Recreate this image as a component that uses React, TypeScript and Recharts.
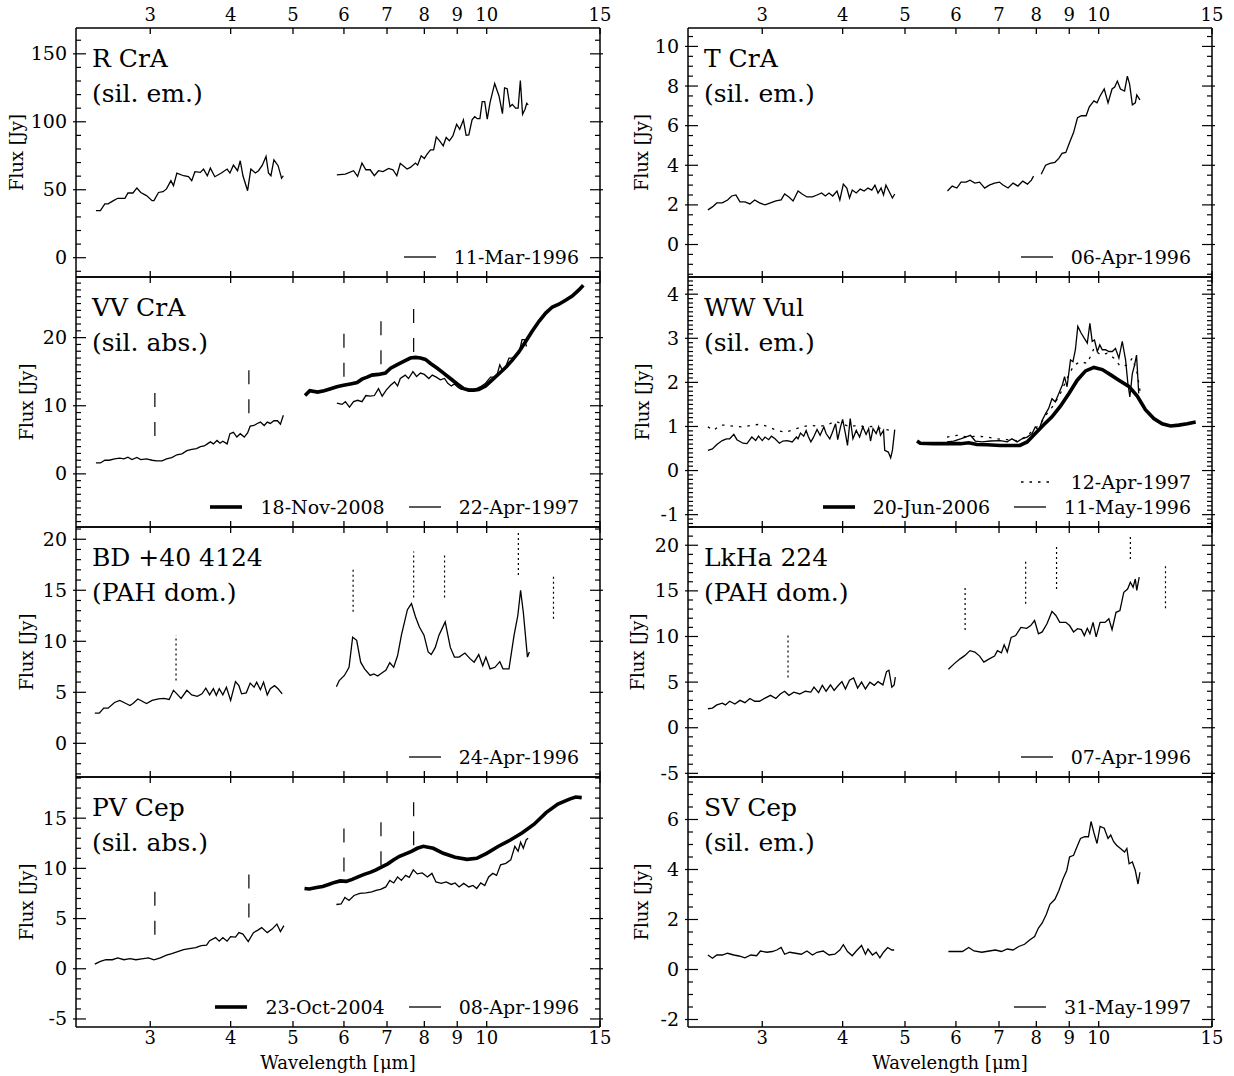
import React from "react";
import { LineChart, Line, XAxis, YAxis, ReferenceLine } from "recharts";

type Pt = [number, number];

// wavelength [um], flux [Jy]

// R CrA, 11-Mar-1996
const RCRA_96_A: Pt[] = [[2.47,34.7],[2.51,34.7],[2.55,39.6],[2.58,39.6],[2.63,42.0],[2.67,43.7],[2.74,43.7],[2.77,47.6],[2.82,47.6],[2.86,51.3],[2.90,48.0],[2.96,45.7],[3.02,42.0],[3.04,42.0],[3.09,48.0],[3.14,48.6],[3.18,50.6],[3.23,56.7],[3.26,53.0],[3.30,62.3],[3.38,60.3],[3.44,59.6],[3.48,56.7],[3.52,63.3],[3.59,62.8],[3.63,65.2],[3.68,60.3],[3.72,65.9],[3.78,59.6],[3.87,62.3],[3.95,65.2],[3.99,62.3],[4.04,68.1],[4.10,64.0],[4.14,71.3],[4.18,60.3],[4.25,49.3],[4.30,65.2],[4.37,62.3],[4.42,64.0],[4.48,68.1],[4.54,74.5],[4.58,62.3],[4.62,60.3],[4.67,72.0],[4.74,67.7],[4.80,58.4],[4.83,60.3]];
const RCRA_96_B: Pt[] = [[5.85,61.0],[6.03,61.5],[6.21,64.0],[6.30,59.8],[6.40,69.6],[6.49,64.7],[6.59,64.7],[6.69,60.3],[6.79,64.0],[6.90,63.3],[7.04,65.7],[7.15,64.7],[7.25,60.3],[7.34,69.4],[7.52,65.2],[7.61,66.4],[7.75,69.6],[7.81,68.1],[7.91,75.0],[8.00,73.0],[8.08,76.2],[8.18,79.4],[8.27,79.4],[8.35,88.9],[8.45,86.0],[8.56,82.3],[8.65,88.4],[8.75,86.0],[8.86,89.6],[8.98,98.2],[9.08,94.5],[9.20,101.4],[9.29,90.1],[9.38,90.4],[9.49,101.4],[9.58,103.8],[9.67,102.3],[9.76,102.3],[9.84,114.8],[9.93,114.8],[10.02,101.9],[10.12,114.1],[10.29,128.2],[10.45,119.0],[10.58,106.0],[10.66,125.0],[10.76,124.3],[10.87,111.1],[10.96,112.8],[11.09,110.0],[11.19,110.0],[11.28,130.4],[11.37,105.5],[11.47,109.2],[11.54,113.6],[11.60,112.4]];

// VV CrA
const VVCRA_97_A: Pt[] = [[2.47,1.6],[2.51,1.6],[2.55,2.0],[2.59,2.0],[2.64,2.2],[2.69,2.3],[2.73,2.2],[2.77,2.45],[2.81,2.1],[2.86,2.4],[2.90,2.1],[2.96,2.2],[3.02,2.0],[3.07,1.9],[3.13,1.9],[3.18,2.2],[3.24,2.4],[3.30,2.8],[3.36,2.95],[3.42,3.4],[3.48,3.6],[3.54,3.7],[3.59,4.0],[3.64,4.1],[3.68,4.4],[3.72,4.7],[3.76,4.4],[3.81,4.9],[3.85,4.5],[3.89,4.8],[3.95,4.4],[3.99,5.9],[4.04,6.1],[4.09,5.4],[4.14,5.9],[4.20,5.4],[4.25,6.0],[4.29,7.0],[4.35,7.1],[4.40,7.4],[4.45,7.6],[4.51,7.1],[4.56,7.6],[4.61,7.4],[4.67,7.8],[4.73,7.8],[4.78,7.3],[4.83,8.6]];
const VVCRA_97_B: Pt[] = [[5.85,10.4],[5.96,10.2],[6.03,10.6],[6.12,9.8],[6.21,10.6],[6.30,10.8],[6.40,10.6],[6.49,11.5],[6.59,11.4],[6.69,11.5],[6.79,12.5],[6.88,11.4],[6.98,12.3],[7.09,13.0],[7.19,13.5],[7.27,12.9],[7.34,14.0],[7.47,14.5],[7.56,14.0],[7.68,15.0],[7.78,14.3],[7.89,14.8],[8.00,14.6],[8.13,14.0],[8.23,14.5],[8.35,14.2],[8.47,13.8],[8.60,14.0],[8.70,13.3],[8.81,12.9],[8.91,13.2],[9.02,12.7],[9.13,12.4],[9.27,12.4],[9.44,12.4],[9.61,12.4],[9.78,12.8],[9.96,13.3],[10.14,14.2],[10.26,14.2],[10.39,14.7],[10.48,16.0],[10.58,15.2],[10.70,15.7],[10.83,17.0],[10.96,17.0],[11.09,17.4],[11.22,17.7],[11.35,19.7],[11.45,19.7],[11.53,18.7]];
const VVCRA_08: Pt[] = [[5.22,11.5],[5.31,12.2],[5.46,12.0],[5.59,12.2],[5.72,12.5],[5.85,12.8],[5.99,13.0],[6.14,13.2],[6.29,13.4],[6.40,13.9],[6.52,14.2],[6.63,14.5],[6.79,14.6],[6.96,14.8],[7.09,15.5],[7.25,16.0],[7.43,16.5],[7.61,17.0],[7.75,17.1],[7.89,17.0],[8.03,16.8],[8.18,16.2],[8.38,15.5],[8.57,14.8],[8.78,14.0],[9.00,13.2],[9.21,12.5],[9.38,12.3],[9.55,12.3],[9.72,12.4],[9.96,12.9],[10.20,13.8],[10.45,14.7],[10.70,15.6],[10.96,16.7],[11.22,17.9],[11.49,19.4],[11.76,20.9],[12.06,22.4],[12.35,23.6],[12.65,24.5],[12.95,24.9],[13.26,25.5],[13.58,26.1],[13.91,27.0],[14.13,27.7]];

// BD +40 4124, 24-Apr-1996
const BD40_96_A: Pt[] = [[2.46,2.95],[2.50,2.95],[2.54,3.45],[2.58,3.45],[2.64,4.0],[2.69,4.2],[2.75,3.9],[2.79,3.7],[2.82,3.9],[2.87,4.35],[2.90,4.2],[2.96,3.9],[3.02,4.2],[3.09,4.35],[3.15,4.4],[3.21,4.3],[3.26,5.2],[3.30,4.85],[3.35,4.4],[3.42,5.2],[3.48,4.75],[3.55,4.6],[3.61,4.85],[3.66,5.4],[3.71,4.75],[3.76,5.35],[3.80,4.7],[3.84,5.35],[3.89,4.75],[3.94,5.5],[4.00,4.2],[4.07,6.05],[4.12,5.65],[4.16,4.85],[4.23,4.95],[4.29,5.9],[4.35,5.5],[4.39,6.0],[4.45,5.25],[4.50,6.0],[4.56,4.75],[4.61,5.35],[4.68,5.65],[4.74,5.35],[4.81,4.85]];
const BD40_96_B: Pt[] = [[5.84,5.55],[5.90,6.15],[6.01,6.65],[6.11,7.45],[6.19,10.4],[6.28,10.1],[6.37,7.95],[6.46,7.3],[6.59,6.65],[6.68,6.8],[6.77,6.6],[6.87,6.9],[6.97,7.15],[7.07,7.9],[7.17,7.45],[7.27,8.6],[7.37,10.6],[7.53,13.1],[7.64,13.7],[7.75,12.4],[7.86,11.4],[7.99,10.6],[8.11,8.95],[8.20,8.7],[8.32,9.4],[8.43,10.6],[8.62,11.9],[8.78,9.4],[8.91,8.45],[9.06,8.45],[9.25,8.85],[9.42,8.3],[9.56,7.95],[9.72,8.7],[9.86,7.6],[9.97,8.45],[10.12,7.3],[10.30,7.45],[10.48,8.0],[10.60,7.3],[10.83,7.3],[11.03,10.6],[11.18,12.55],[11.29,15.0],[11.40,12.85],[11.57,8.45],[11.65,8.95]];

// PV Cep
const PVCEP_96_A: Pt[] = [[2.46,0.47],[2.51,0.74],[2.56,0.9],[2.62,0.9],[2.67,1.08],[2.73,0.9],[2.79,1.0],[2.85,0.9],[2.91,0.98],[2.98,1.08],[3.04,0.88],[3.11,1.08],[3.18,1.35],[3.24,1.5],[3.31,1.7],[3.38,1.9],[3.45,2.0],[3.53,2.1],[3.60,2.3],[3.67,2.35],[3.71,2.8],[3.79,3.1],[3.84,2.75],[3.89,3.1],[3.95,2.75],[4.00,3.2],[4.07,3.15],[4.12,3.6],[4.18,3.45],[4.26,2.7],[4.34,3.6],[4.41,3.85],[4.47,4.1],[4.56,3.6],[4.64,3.95],[4.72,4.45],[4.78,3.7],[4.84,4.3]];
const PVCEP_96_B: Pt[] = [[5.84,6.4],[5.94,6.45],[6.02,7.1],[6.11,6.8],[6.22,7.3],[6.35,7.5],[6.49,7.55],[6.63,7.65],[6.73,7.8],[6.84,7.9],[6.97,8.15],[7.07,8.8],[7.17,8.55],[7.27,9.15],[7.37,8.8],[7.48,9.3],[7.58,9.1],[7.69,9.85],[7.80,9.45],[7.94,9.55],[8.09,9.15],[8.22,9.5],[8.34,8.65],[8.50,8.5],[8.65,8.65],[8.81,8.4],[8.93,8.55],[9.06,8.15],[9.21,8.5],[9.38,8.15],[9.52,8.3],[9.65,8.0],[9.79,8.55],[9.93,8.3],[10.07,9.15],[10.22,9.5],[10.36,9.3],[10.51,10.35],[10.71,10.5],[10.90,10.85],[11.06,12.2],[11.19,11.7],[11.29,12.6],[11.40,12.0],[11.52,12.85],[11.60,13.0]];
const PVCEP_04: Pt[] = [[5.21,8.0],[5.30,7.95],[5.44,8.1],[5.56,8.2],[5.68,8.4],[5.80,8.6],[5.92,8.75],[6.05,8.7],[6.18,8.9],[6.31,9.15],[6.45,9.4],[6.59,9.6],[6.73,9.85],[6.87,10.15],[7.02,10.45],[7.17,10.85],[7.32,11.2],[7.48,11.45],[7.64,11.7],[7.80,12.0],[7.97,12.2],[8.26,12.0],[8.56,11.5],[8.93,11.1],[9.32,10.9],[9.65,11.0],[10.00,11.5],[10.43,12.2],[10.90,12.85],[11.36,13.55],[11.85,14.4],[12.37,15.55],[12.90,16.4],[13.45,16.9],[13.75,17.1],[14.05,17.05]];

// T CrA, 06-Apr-1996
const TCRA_96_A: Pt[] = [[2.47,1.75],[2.51,1.9],[2.55,2.1],[2.60,2.1],[2.65,2.25],[2.69,2.45],[2.73,2.5],[2.77,2.15],[2.82,2.15],[2.87,2.05],[2.92,2.25],[2.97,2.1],[3.03,2.0],[3.09,2.1],[3.15,2.2],[3.21,2.25],[3.25,2.55],[3.30,2.4],[3.35,2.2],[3.41,2.7],[3.46,2.55],[3.52,2.4],[3.59,2.4],[3.65,2.5],[3.71,2.6],[3.76,2.45],[3.81,2.6],[3.86,2.45],[3.92,2.7],[3.96,2.25],[4.01,3.05],[4.06,2.85],[4.10,2.35],[4.14,2.75],[4.20,2.6],[4.26,2.8],[4.32,2.7],[4.38,2.85],[4.44,2.75],[4.49,3.0],[4.54,2.6],[4.59,2.85],[4.63,2.5],[4.67,3.0],[4.72,2.7],[4.78,2.35],[4.82,2.55]];
const TCRA_96_B: Pt[] = [[5.82,2.7],[5.92,2.95],[6.02,2.85],[6.11,3.15],[6.22,3.15],[6.31,3.25],[6.42,3.1],[6.53,3.15],[6.65,2.85],[6.76,3.0],[6.89,3.1],[7.01,3.15],[7.10,3.0],[7.23,2.85],[7.36,3.1],[7.49,2.95],[7.62,3.2],[7.75,3.05],[7.86,3.25],[7.92,3.45]];
const TCRA_96_C: Pt[] = [[8.14,3.55],[8.27,4.0],[8.40,4.1],[8.55,4.15],[8.67,4.35],[8.77,4.6],[8.89,4.65],[9.01,5.15],[9.14,5.65],[9.27,6.4],[9.40,6.5],[9.56,6.5],[9.67,6.95],[9.83,7.25],[9.94,7.15],[10.05,7.5],[10.20,7.85],[10.34,7.15],[10.49,7.85],[10.59,7.95],[10.69,8.25],[10.81,7.85],[10.97,7.75],[11.08,8.5],[11.17,8.1],[11.28,7.05],[11.40,7.15],[11.46,7.55],[11.59,7.3]];

// WW Vul
const WWVUL_96_A: Pt[] = [[2.47,0.46],[2.51,0.49],[2.55,0.59],[2.60,0.68],[2.64,0.72],[2.67,0.72],[2.71,0.82],[2.74,0.7],[2.80,0.62],[2.84,0.61],[2.89,0.76],[2.93,0.68],[2.96,0.78],[3.00,0.68],[3.03,0.76],[3.07,0.7],[3.10,0.78],[3.14,0.72],[3.19,0.62],[3.23,0.67],[3.28,0.68],[3.34,0.65],[3.39,0.76],[3.41,0.72],[3.44,0.85],[3.48,0.78],[3.51,0.91],[3.54,0.76],[3.57,0.65],[3.60,0.74],[3.65,0.93],[3.69,0.8],[3.74,0.99],[3.77,0.84],[3.82,0.72],[3.85,0.84],[3.90,1.06],[3.93,0.7],[3.97,0.99],[4.00,1.16],[4.04,0.84],[4.07,0.57],[4.11,1.18],[4.15,0.72],[4.20,0.91],[4.25,0.76],[4.30,0.99],[4.35,0.82],[4.39,0.95],[4.42,0.67],[4.46,0.95],[4.51,0.84],[4.55,0.99],[4.58,0.8],[4.63,0.91],[4.65,0.46],[4.71,0.42],[4.75,0.29],[4.78,0.46],[4.82,0.93]];
const WWVUL_96_B: Pt[] = [[5.81,0.65],[5.95,0.67],[6.10,0.72],[6.32,0.8],[6.43,0.67],[6.59,0.65],[6.79,0.67],[7.03,0.68],[7.21,0.65],[7.33,0.72],[7.47,0.65],[7.60,0.72],[7.74,0.76],[7.88,0.84],[7.97,0.99],[8.07,0.91],[8.17,1.14],[8.27,1.29],[8.36,1.41],[8.46,1.63],[8.56,1.56],[8.67,1.75],[8.78,1.94],[8.85,2.13],[8.93,1.9],[9.04,2.51],[9.12,2.47],[9.20,2.74],[9.28,3.27],[9.39,3.12],[9.50,3.0],[9.60,2.89],[9.69,3.34],[9.77,2.93],[9.85,2.96],[9.95,2.7],[10.04,2.85],[10.13,2.74],[10.25,2.74],[10.37,2.7],[10.50,2.7],[10.62,2.77],[10.75,2.55],[10.88,2.93],[11.01,2.51],[11.10,1.98],[11.18,1.67],[11.28,2.2],[11.37,2.39],[11.45,2.62],[11.54,1.75]];
const WWVUL_97_A: Pt[] = [[2.47,0.99],[2.52,0.91],[2.58,1.03],[2.64,1.03],[2.72,1.0],[2.80,0.99],[2.89,1.03],[2.98,1.05],[3.07,0.99],[3.16,0.91],[3.26,0.87],[3.36,0.93],[3.45,0.99],[3.56,1.03],[3.67,1.0],[3.78,1.03],[3.90,1.12],[3.99,1.06],[4.11,0.99],[4.21,1.03],[4.34,0.99],[4.46,1.0],[4.60,0.95],[4.74,0.91],[4.82,0.85]];
const WWVUL_97_B: Pt[] = [[5.81,0.76],[6.02,0.8],[6.24,0.76],[6.47,0.78],[6.71,0.76],[6.95,0.72],[7.21,0.7],[7.47,0.68],[7.70,0.76],[7.93,0.93],[8.12,1.06],[8.31,1.29],[8.51,1.48],[8.72,1.75],[8.93,2.09],[9.15,2.39],[9.37,2.47],[9.60,2.43],[9.83,2.77],[10.06,2.62],[10.31,2.66],[10.56,2.55],[10.81,2.36],[11.07,2.39],[11.28,2.55],[11.48,2.2],[11.61,1.75]];
const WWVUL_06: Pt[] = [[5.22,0.67],[5.28,0.62],[5.53,0.61],[5.81,0.61],[6.10,0.61],[6.28,0.63],[6.47,0.59],[6.71,0.585],[7.03,0.57],[7.29,0.57],[7.54,0.57],[7.74,0.65],[7.97,0.84],[8.20,1.03],[8.46,1.22],[8.72,1.46],[8.99,1.75],[9.26,2.05],[9.54,2.26],[9.83,2.34],[10.13,2.29],[10.44,2.17],[10.75,2.05],[11.14,1.91],[11.48,1.69],[11.82,1.38],[12.18,1.18],[12.55,1.06],[12.93,1.01],[13.32,1.03],[13.73,1.06],[14.15,1.1]];

// LkHa 224, 07-Apr-1996
const LKHA_96_A: Pt[] = [[2.47,2.08],[2.51,2.15],[2.55,2.5],[2.60,2.7],[2.63,2.5],[2.67,2.9],[2.72,2.6],[2.77,3.0],[2.82,2.75],[2.87,3.2],[2.92,2.9],[2.97,2.9],[3.03,3.25],[3.09,3.55],[3.15,3.2],[3.20,3.7],[3.25,4.0],[3.30,3.55],[3.36,3.9],[3.43,3.7],[3.50,4.0],[3.57,3.9],[3.61,4.45],[3.67,3.85],[3.72,4.65],[3.77,4.0],[3.83,4.7],[3.88,4.1],[3.94,4.65],[3.99,5.05],[4.04,4.25],[4.10,5.2],[4.16,5.45],[4.22,4.35],[4.28,5.0],[4.34,4.25],[4.41,5.0],[4.48,4.65],[4.54,5.05],[4.62,4.7],[4.68,6.15],[4.72,6.3],[4.77,4.45],[4.81,4.7],[4.83,5.55]];
const LKHA_96_B: Pt[] = [[5.84,6.4],[5.96,7.0],[6.09,7.55],[6.19,7.9],[6.31,8.45],[6.42,8.3],[6.53,7.85],[6.63,7.2],[6.76,7.55],[6.89,7.85],[6.96,8.45],[7.06,8.2],[7.13,9.1],[7.21,8.3],[7.31,9.9],[7.43,10.1],[7.57,11.0],[7.73,10.9],[7.84,11.2],[7.95,11.75],[8.06,10.3],[8.17,10.5],[8.31,11.4],[8.46,12.75],[8.58,12.3],[8.70,11.55],[8.89,11.55],[9.01,11.2],[9.14,10.5],[9.27,10.85],[9.40,10.75],[9.50,10.1],[9.60,10.9],[9.69,10.3],[9.80,11.55],[9.91,9.95],[10.05,11.55],[10.23,11.55],[10.37,11.95],[10.49,10.75],[10.64,12.65],[10.79,12.85],[10.94,14.85],[11.09,15.2],[11.20,15.95],[11.31,15.4],[11.40,16.3],[11.46,15.05],[11.56,16.5]];

// SV Cep, 31-May-1997
const SVCEP_97_A: Pt[] = [[2.47,0.58],[2.51,0.45],[2.55,0.58],[2.60,0.58],[2.65,0.65],[2.71,0.58],[2.76,0.54],[2.82,0.47],[2.88,0.58],[2.94,0.55],[2.98,0.74],[3.05,0.69],[3.11,0.72],[3.16,0.78],[3.21,0.88],[3.25,0.61],[3.31,0.69],[3.38,0.65],[3.45,0.61],[3.52,0.74],[3.59,0.58],[3.65,0.69],[3.73,0.74],[3.81,0.58],[3.89,0.61],[3.96,0.78],[4.01,0.99],[4.07,0.72],[4.14,0.55],[4.20,0.74],[4.28,0.96],[4.34,0.61],[4.38,0.82],[4.45,0.58],[4.51,0.69],[4.57,0.47],[4.63,0.69],[4.70,0.88],[4.77,0.78],[4.81,0.78]];
const SVCEP_97_B: Pt[] = [[5.84,0.72],[6.01,0.72],[6.14,0.72],[6.28,0.88],[6.40,0.74],[6.58,0.69],[6.76,0.74],[6.91,0.78],[7.06,0.72],[7.21,0.82],[7.36,0.78],[7.51,0.92],[7.67,1.01],[7.82,1.19],[7.95,1.32],[8.06,1.66],[8.17,1.86],[8.29,2.2],[8.40,2.61],[8.55,2.81],[8.67,3.15],[8.80,3.62],[8.92,3.96],[9.01,4.5],[9.14,4.57],[9.25,4.9],[9.37,5.24],[9.51,5.31],[9.64,5.31],[9.73,5.92],[9.83,5.47],[9.94,5.04],[10.05,5.72],[10.20,5.65],[10.34,5.24],[10.44,5.38],[10.55,5.11],[10.66,4.97],[10.81,4.84],[10.97,4.7],[11.06,4.84],[11.15,4.23],[11.28,4.3],[11.40,3.96],[11.51,3.42],[11.59,3.89]];

// feature markers: wavelength, lower flux, upper flux
const ICE_VVCRA: number[][] = [[3.05,5.55,11.9],[4.27,8.9,15.3],[6.0,14.25,20.6],[6.85,16.1,22.5],[7.7,17.9,24.2]];
const ICE_PVCEP: number[][] = [[3.05,3.4,7.8],[4.27,5.1,9.5],[6.0,9.7,14.7],[6.85,10.3,14.7],[7.7,12.3,16.6]];
const PAH_BD40: number[][] = [[3.29,6.15,10.6],[6.2,12.9,17.1],[7.7,14.3,18.8],[8.6,14.3,18.6],[11.2,16.5,20.9],[12.7,12.2,16.6]];
const PAH_LKHA: number[][] = [[3.29,5.5,10.3],[6.2,10.7,15.4],[7.7,13.6,18.4],[8.6,15.2,20.0],[11.2,18.5,21.1],[12.7,13.1,18.0]];

const X_TICKS = [3, 4, 5, 6, 7, 8, 9, 10, 15];
const X_DOMAIN: [number, number] = [2.3, 15];

const FONT = '"DejaVu Serif", serif';
const COLS = [76, 688];
const ROWS = [28, 277, 527, 777, 1027];
const PW = 524;
const THIN = 1.3;
const THICK = 3.6;
const DOTS = "2.5 6";

interface Series { data: Pt[]; w: number; dash?: string }
interface LegendItem { label: string; w: number; dash?: string }
interface PanelDef {
  name: string;
  note: string;
  col: number;
  row: number;
  domain: [number, number];
  major: number[];
  minorStep: number;
  yLab: number;
  series: Series[];
  markers?: number[][];
  markerDash?: string;
  legend: LegendItem[][];
}

const PANELS: PanelDef[] = [
  {
    name: "R CrA", note: "(sil. em.)", col: 0, row: 0, domain: [-14.2, 169], major: [0, 50, 100, 150], minorStep: 10, yLab: 60,
    series: [{ data: RCRA_96_A, w: THIN }, { data: RCRA_96_B, w: THIN }],
    legend: [[{ label: "11-Mar-1996", w: THIN }]],
  },
  {
    name: "VV CrA", note: "(sil. abs.)", col: 0, row: 1, domain: [-7.8, 28.9], major: [0, 10, 20], minorStep: 1, yLab: 50,
    series: [{ data: VVCRA_97_A, w: THIN }, { data: VVCRA_97_B, w: THIN }, { data: VVCRA_08, w: THICK }],
    markers: ICE_VVCRA, markerDash: "14 15",
    legend: [[{ label: "18-Nov-2008", w: THICK }, { label: "22-Apr-1997", w: THIN }]],
  },
  {
    name: "BD +40 4124", note: "(PAH dom.)", col: 0, row: 2, domain: [-3.3, 21.2], major: [0, 5, 10, 15, 20], minorStep: 1, yLab: 50,
    series: [{ data: BD40_96_A, w: THIN }, { data: BD40_96_B, w: THIN }],
    markers: PAH_BD40, markerDash: "2 3",
    legend: [[{ label: "24-Apr-1996", w: THIN }]],
  },
  {
    name: "PV Cep", note: "(sil. abs.)", col: 0, row: 3, domain: [-5.8, 19.1], major: [-5, 0, 5, 10, 15], minorStep: 1, yLab: 50,
    series: [{ data: PVCEP_96_A, w: THIN }, { data: PVCEP_96_B, w: THIN }, { data: PVCEP_04, w: THICK }],
    markers: ICE_PVCEP, markerDash: "14 15",
    legend: [[{ label: "23-Oct-2004", w: THICK }, { label: "08-Apr-1996", w: THIN }]],
  },
  {
    name: "T CrA", note: "(sil. em.)", col: 1, row: 0, domain: [-1.64, 10.93], major: [0, 2, 4, 6, 8, 10], minorStep: 0.5, yLab: 47,
    series: [{ data: TCRA_96_A, w: THIN }, { data: TCRA_96_B, w: THIN }, { data: TCRA_96_C, w: THIN }],
    legend: [[{ label: "06-Apr-1996", w: THIN }]],
  },
  {
    name: "WW Vul", note: "(sil. em.)", col: 1, row: 1, domain: [-1.28, 4.39], major: [-1, 0, 1, 2, 3, 4], minorStep: 0.1, yLab: 46,
    series: [
      { data: WWVUL_97_A, w: THIN, dash: DOTS }, { data: WWVUL_97_B, w: THIN, dash: DOTS },
      { data: WWVUL_96_A, w: THIN }, { data: WWVUL_96_B, w: THIN }, { data: WWVUL_06, w: THICK },
    ],
    legend: [
      [{ label: "12-Apr-1997", w: THIN, dash: DOTS }],
      [{ label: "20-Jun-2006", w: THICK }, { label: "11-May-1996", w: THIN }],
    ],
  },
  {
    name: "LkHa 224", note: "(PAH dom.)", col: 1, row: 2, domain: [-5.4, 22], major: [-5, 0, 5, 10, 15, 20], minorStep: 1, yLab: 51,
    series: [{ data: LKHA_96_A, w: THIN }, { data: LKHA_96_B, w: THIN }],
    markers: PAH_LKHA, markerDash: "2 3",
    legend: [[{ label: "07-Apr-1996", w: THIN }]],
  },
  {
    name: "SV Cep", note: "(sil. em.)", col: 1, row: 3, domain: [-2.3, 7.7], major: [-2, 0, 2, 4, 6], minorStep: 0.5, yLab: 47,
    series: [{ data: SVCEP_97_A, w: THIN }, { data: SVCEP_97_B, w: THIN }],
    legend: [[{ label: "31-May-1997", w: THIN }]],
  },
];

const rows = (d: Pt[]) => d.map(([x, y]) => ({ x, y }));

function minorTicks(domain: [number, number], step: number) {
  const out: number[] = [];
  const k0 = Math.ceil(domain[0] / step - 1e-9);
  const k1 = Math.floor(domain[1] / step + 1e-9);
  for (let k = k0; k <= k1; k++) out.push(Math.round(k * step * 1000) / 1000);
  return out;
}

// tickSize 2 + tickMargin 2 => the plot edge is 4px from the tick anchor
function XTick(props: any) {
  const { x, y, payload, side, show } = props;
  const bottom = side === "bottom";
  const edge = bottom ? y - 4 : y + 4;
  const dir = bottom ? -1 : 1;
  return (
    <g>
      <line x1={x} x2={x} y1={edge} y2={edge + dir * 6} stroke="#000" strokeWidth={1.3} />
      {show && (
        <text x={x} y={bottom ? edge + 17 : edge - 7} textAnchor="middle" fontSize={18} fontFamily={FONT} fill="#000">
          {payload.value}
        </text>
      )}
    </g>
  );
}

function YTick(props: any) {
  const { x, y, payload, side, major } = props;
  const left = side === "left";
  const edge = left ? x + 4 : x - 4;
  const dir = left ? 1 : -1;
  const isMajor = major.some((m: number) => Math.abs(m - payload.value) < 1e-6);
  return (
    <g>
      <line
        x1={isMajor ? edge - dir * 3 : edge}
        x2={edge + dir * (isMajor ? 10 : 5)}
        y1={y}
        y2={y}
        stroke="#000"
        strokeWidth={1.2}
      />
      {left && isMajor && (
        <text x={edge - 9} y={y + 6.5} textAnchor="end" fontSize={19} fontFamily={FONT} fill="#000">
          {payload.value}
        </text>
      )}
    </g>
  );
}

function Panel({ p }: { p: PanelDef }) {
  const left = COLS[p.col];
  const top = ROWS[p.row];
  const h = ROWS[p.row + 1] - top;
  const yTicks = minorTicks(p.domain, p.minorStep);
  const axisLine = { stroke: "#000", strokeWidth: 1.5 };
  return (
    <div style={{ position: "absolute", left: left - 70, top: top - 35 }}>
      <LineChart width={PW + 90} height={h + 70} margin={{ top: 0, right: 0, bottom: 0, left: 0 }}>
        <XAxis
          xAxisId="b" dataKey="x" type="number" scale="log" domain={X_DOMAIN} allowDataOverflow
          ticks={X_TICKS} interval={0} orientation="bottom" height={35} tickSize={2} tickMargin={2}
          tickLine={false} axisLine={axisLine}
          tick={(t: any) => <XTick {...t} side="bottom" show={p.row === 3} />}
        />
        <XAxis
          xAxisId="t" dataKey="x" type="number" scale="log" domain={X_DOMAIN} allowDataOverflow
          ticks={X_TICKS} interval={0} orientation="top" height={35} tickSize={2} tickMargin={2}
          tickLine={false} axisLine={axisLine}
          tick={(t: any) => <XTick {...t} side="top" show={p.row === 0} />}
        />
        <YAxis
          yAxisId="l" type="number" domain={p.domain} allowDataOverflow ticks={yTicks} interval={0}
          orientation="left" width={70} tickSize={2} tickMargin={2} tickLine={false} axisLine={axisLine}
          tick={(t: any) => <YTick {...t} side="left" major={p.major} />}
        />
        <YAxis
          yAxisId="r" type="number" domain={p.domain} allowDataOverflow ticks={yTicks} interval={0}
          orientation="right" width={20} tickSize={2} tickMargin={2} tickLine={false} axisLine={axisLine}
          tick={(t: any) => <YTick {...t} side="right" major={p.major} />}
        />
        {(p.markers || []).map((m, i) => (
          <ReferenceLine
            key={"m" + i}
            xAxisId="b"
            yAxisId="l"
            segment={[{ x: m[0], y: m[1] }, { x: m[0], y: m[2] }]}
            stroke="#000"
            strokeWidth={1.2}
            strokeDasharray={p.markerDash}
          />
        ))}
        {p.series.map((s, i) => (
          <Line
            key={"s" + i}
            xAxisId="b"
            yAxisId="l"
            data={rows(s.data)}
            dataKey="y"
            type="linear"
            stroke="#000"
            strokeWidth={s.w}
            strokeDasharray={s.dash}
            dot={false}
            activeDot={false}
            isAnimationActive={false}
          />
        ))}
      </LineChart>
    </div>
  );
}

function Legend({ p }: { p: PanelDef }) {
  const right = COLS[p.col] + PW - 21;
  const bottom = ROWS[p.row + 1];
  const n = p.legend.length;
  return (
    <>
      {p.legend.map((items, r) => (
        <div
          key={r}
          style={{
            position: "absolute",
            right: 1234 - right,
            top: bottom - 20 - 12 - (n - 1 - r) * 25,
            height: 24,
            display: "flex",
            alignItems: "center",
            fontFamily: FONT,
            fontSize: 19,
            whiteSpace: "nowrap",
          }}
        >
          {items.map((it, i) => (
            <span key={i} style={{ display: "flex", alignItems: "center", marginLeft: i ? 24 : 0 }}>
              <svg width={32} height={10}>
                <line x1={0} x2={32} y1={5} y2={5} stroke="#000" strokeWidth={it.w} strokeDasharray={it.dash} />
              </svg>
              <span style={{ marginLeft: 18 }}>{it.label}</span>
            </span>
          ))}
        </div>
      ))}
    </>
  );
}

export default function App() {
  return (
    <div style={{ position: "absolute", left: 0, top: 0, width: 1234, height: 1076, background: "#fff" }}>
      {PANELS.map((p) => (
        <Panel key={p.name} p={p} />
      ))}
      <svg width={1234} height={1076} style={{ position: "absolute", left: 0, top: 0, pointerEvents: "none" }}>
        {PANELS.map((p) => {
          const left = COLS[p.col];
          const top = ROWS[p.row];
          const mid = (top + ROWS[p.row + 1]) / 2;
          return (
            <g key={p.name} fontFamily={FONT} fill="#000">
              <text x={left + 16} y={top + 39} fontSize={25}>{p.name}</text>
              <text x={left + 16} y={top + 74} fontSize={25}>{p.note}</text>
              <text
                transform={`translate(${left - p.yLab},${mid}) rotate(-90)`}
                textAnchor="middle"
                dominantBaseline="central"
                fontSize={18}
              >
                Flux [Jy]
              </text>
            </g>
          );
        })}
        {COLS.map((c) => (
          <text key={c} x={c + PW / 2} y={1069} textAnchor="middle" fontSize={18} fontFamily={FONT} fill="#000">
            Wavelength [μm]
          </text>
        ))}
      </svg>
      {PANELS.map((p) => (
        <Legend key={p.name} p={p} />
      ))}
    </div>
  );
}
